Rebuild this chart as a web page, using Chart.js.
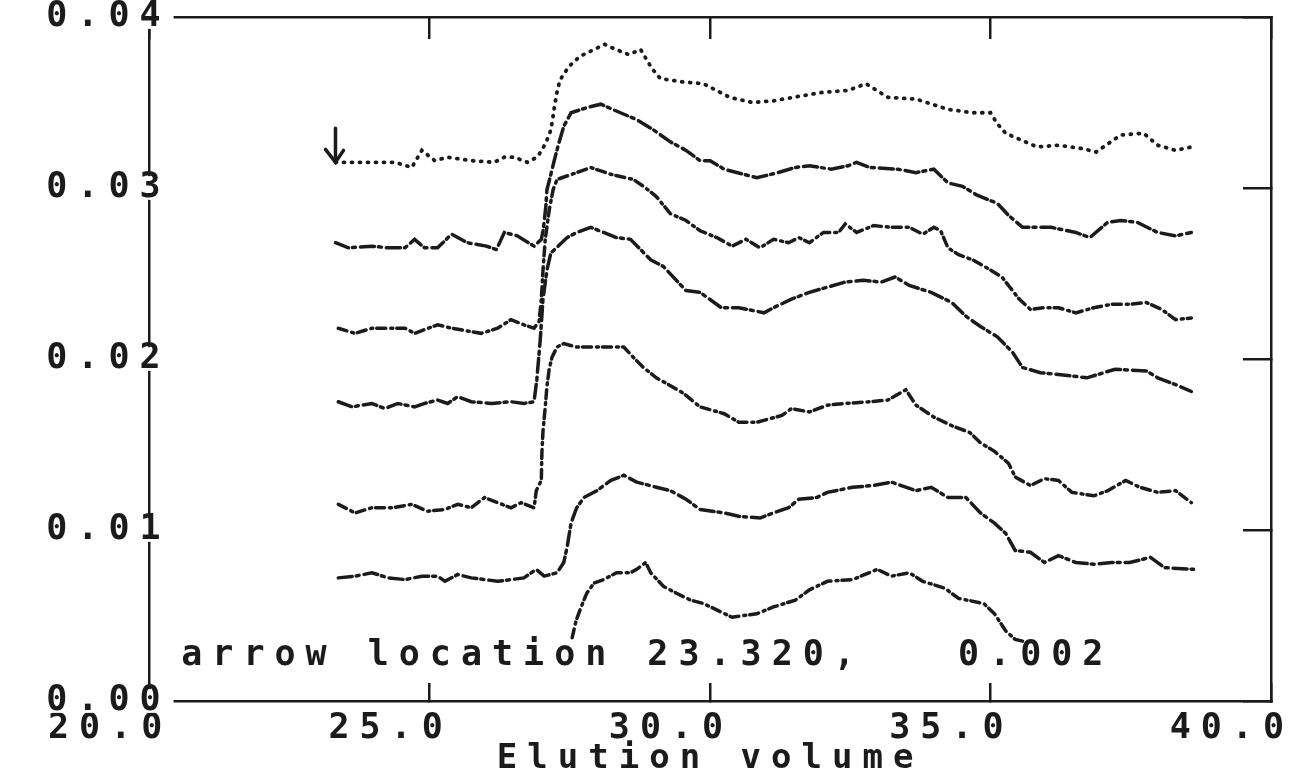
<!DOCTYPE html>
<html><head><meta charset="utf-8">
<script src="https://cdn.jsdelivr.net/npm/chart.js@4.4.1/dist/chart.umd.min.js"></script>
<style>html,body{margin:0;padding:0;background:#fff;}canvas{display:block;}</style>
</head><body>
<canvas id="c" width="1306" height="777"></canvas>
<script>
// ---- data ----
const xTickValues = [20, 25, 30, 35, 40];
const xTickLabels = ['20.0', '25.0', '30.0', '35.0', '40.0'];
const yTickValues = [0, 0.01, 0.02, 0.03, 0.04];
const yTickLabels = ['0.00', '0.01', '0.02', '0.03', '0.04'];
const axisTitle = 'Elution volume';
const annotationText = 'arrow location 23.320,   0.002';
const arrowX = 23.32;

const trace1 = [[23.32,.0315],[23.67,.0315],[23.97,.0315],[24.38,.0315],[24.68,.0312],[24.86,.0322],[25.09,.0316],[25.32,.0318],[25.74,.0316],[26.15,.0315],[26.33,.0318],[26.51,.0318],[26.74,.0315],[26.91,.0318],[27.00,.0322],[27.09,.0328],[27.16,.0334],[27.20,.0342],[27.23,.0349],[27.27,.0356],[27.32,.0363],[27.48,.0371],[27.68,.0377],[27.93,.0381],[28.12,.0384],[28.32,.0381],[28.55,.0378],[28.76,.0381],[28.96,.0370],[29.11,.0364],[29.52,.0362],[29.88,.0361],[30.35,.0353],[30.76,.0350],[31.13,.0351],[31.65,.0354],[32.02,.0356],[32.45,.0357],[32.78,.0361],[33.17,.0353],[33.67,.0352],[34.24,.0346],[34.68,.0344],[35.00,.0344],[35.11,.0338],[35.27,.0332],[35.83,.0324],[36.21,.0325],[36.65,.0323],[36.88,.0321],[37.32,.0331],[37.73,.0332],[37.98,.0325],[38.30,.0322],[38.58,.0324]];
const trace2 = [[23.32,.0268],[23.55,.0265],[23.97,.0266],[24.26,.0265],[24.56,.0265],[24.73,.0270],[24.91,.0265],[25.14,.0265],[25.39,.0273],[25.67,.0268],[26.01,.0266],[26.19,.0264],[26.33,.0274],[26.56,.0272],[26.86,.0266],[26.99,.0270],[27.02,.0275],[27.04,.0280],[27.07,.0289],[27.09,.0299],[27.16,.0308],[27.22,.0316],[27.30,.0326],[27.39,.0336],[27.52,.0344],[27.80,.0347],[28.05,.0349],[28.40,.0344],[28.69,.0340],[28.99,.0334],[29.29,.0327],[29.57,.0322],[29.82,.0316],[30.00,.0316],[30.25,.0311],[30.83,.0306],[31.21,.0309],[31.52,.0312],[31.77,.0313],[32.16,.0311],[32.46,.0313],[32.61,.0315],[32.85,.0312],[33.35,.0311],[33.67,.0309],[33.99,.0311],[34.24,.0303],[34.50,.0301],[34.75,.0296],[35.12,.0291],[35.32,.0284],[35.57,.0277],[36.08,.0277],[36.52,.0274],[36.77,.0271],[37.09,.0280],[37.32,.0281],[37.61,.0280],[37.98,.0274],[38.30,.0272],[38.58,.0274]];
const trace3 = [[23.37,.0218],[23.67,.0215],[23.97,.0218],[24.56,.0218],[24.73,.0215],[25.14,.0220],[25.39,.0218],[25.74,.0216],[25.92,.0215],[26.21,.0218],[26.45,.0223],[26.68,.0220],[26.86,.0218],[26.95,.0222],[26.99,.0235],[27.02,.0252],[27.06,.0270],[27.13,.0287],[27.20,.0299],[27.27,.0305],[27.62,.0309],[27.87,.0312],[28.23,.0308],[28.63,.0305],[28.81,.0301],[29.04,.0295],[29.29,.0285],[29.57,.0281],[29.82,.0275],[30.12,.0271],[30.39,.0266],[30.64,.0270],[30.89,.0265],[31.13,.0270],[31.40,.0268],[31.58,.0271],[31.77,.0268],[32.02,.0274],[32.29,.0274],[32.41,.0279],[32.61,.0274],[32.91,.0278],[33.23,.0277],[33.55,.0277],[33.79,.0273],[33.99,.0277],[34.11,.0275],[34.24,.0265],[34.43,.0261],[34.68,.0258],[34.95,.0253],[35.20,.0248],[35.32,.0243],[35.51,.0235],[35.71,.0229],[35.96,.0230],[36.21,.0230],[36.52,.0227],[36.84,.0230],[37.16,.0232],[37.48,.0232],[37.78,.0233],[38.05,.0229],[38.30,.0223],[38.58,.0224]];
const trace4 = [[23.37,.0175],[23.62,.0172],[23.97,.0174],[24.20,.0171],[24.43,.0174],[24.73,.0172],[24.91,.0174],[25.14,.0176],[25.32,.0174],[25.50,.0178],[25.74,.0175],[26.10,.0174],[26.45,.0175],[26.68,.0174],[26.86,.0175],[26.91,.0188],[26.97,.0211],[27.02,.0235],[27.09,.0252],[27.16,.0262],[27.45,.0271],[27.62,.0274],[27.87,.0277],[28.10,.0274],[28.33,.0271],[28.58,.0270],[28.94,.0258],[29.17,.0254],[29.34,.0248],[29.57,.0240],[29.82,.0239],[30.20,.0230],[30.51,.0230],[30.96,.0227],[31.13,.0230],[31.45,.0235],[31.77,.0239],[32.09,.0242],[32.41,.0245],[32.73,.0246],[33.05,.0245],[33.30,.0248],[33.55,.0243],[33.94,.0239],[34.31,.0233],[34.56,.0225],[34.82,.0219],[35.12,.0213],[35.39,.0204],[35.57,.0195],[35.89,.0192],[36.21,.0191],[36.72,.0189],[37.22,.0194],[37.78,.0193],[37.98,.0189],[38.30,.0185],[38.58,.0181]];
const trace5 = [[23.37,.0115],[23.67,.0110],[23.97,.0113],[24.33,.0113],[24.68,.0115],[24.96,.0111],[25.27,.0112],[25.50,.0115],[25.74,.0113],[25.98,.0119],[26.21,.0116],[26.45,.0113],[26.63,.0116],[26.86,.0113],[26.90,.0123],[26.99,.0129],[27.00,.0145],[27.02,.0158],[27.06,.0172],[27.09,.0184],[27.13,.0194],[27.18,.0201],[27.27,.0207],[27.39,.0209],[27.62,.0207],[27.93,.0207],[28.23,.0207],[28.46,.0207],[28.63,.0201],[28.81,.0195],[29.04,.0189],[29.26,.0185],[29.52,.0180],[29.82,.0172],[30.25,.0168],[30.51,.0163],[30.83,.0163],[31.28,.0167],[31.45,.0171],[31.77,.0169],[32.09,.0173],[32.41,.0174],[32.85,.0175],[33.17,.0176],[33.49,.0182],[33.67,.0173],[33.99,.0166],[34.31,.0161],[34.63,.0157],[34.82,.0151],[35.07,.0146],[35.32,.0139],[35.44,.0131],[35.71,.0126],[35.96,.0130],[36.21,.0129],[36.45,.0122],[36.84,.0120],[37.09,.0123],[37.41,.0129],[37.66,.0125],[37.98,.0122],[38.30,.0123],[38.58,.0116]];
const trace6 = [[23.37,.0072],[23.67,.0073],[23.97,.0075],[24.26,.0072],[24.56,.0071],[24.86,.0073],[25.14,.0073],[25.27,.0070],[25.50,.0074],[25.74,.0072],[25.98,.0071],[26.21,.0070],[26.45,.0071],[26.68,.0072],[26.90,.0077],[27.04,.0073],[27.27,.0075],[27.39,.0081],[27.45,.0090],[27.52,.0104],[27.62,.0113],[27.75,.0119],[27.98,.0123],[28.23,.0129],[28.46,.0132],[28.69,.0128],[29.04,.0125],[29.29,.0123],[29.57,.0118],[29.82,.0112],[30.25,.0110],[30.51,.0108],[30.89,.0107],[31.13,.0110],[31.40,.0113],[31.58,.0118],[31.90,.0119],[32.09,.0122],[32.54,.0125],[32.91,.0126],[33.23,.0128],[33.67,.0123],[33.94,.0125],[34.24,.0119],[34.56,.0119],[34.82,.0110],[35.07,.0104],[35.27,.0098],[35.44,.0088],[35.71,.0087],[35.96,.0081],[36.21,.0085],[36.52,.0081],[36.84,.0080],[37.16,.0081],[37.48,.0081],[37.85,.0084],[38.10,.0078],[38.62,.0077]];
const trace7 = [[27.54,.0037],[27.61,.0047],[27.70,.0055],[27.80,.0063],[27.93,.0069],[28.10,.0071],[28.33,.0075],[28.58,.0075],[28.69,.0077],[28.85,.0081],[28.94,.0075],[29.17,.0067],[29.40,.0063],[29.65,.0059],[29.88,.0057],[30.39,.0049],[30.83,.0051],[31.13,.0055],[31.52,.0059],[31.77,.0065],[32.09,.0070],[32.54,.0071],[32.98,.0077],[33.23,.0073],[33.55,.0075],[33.79,.0070],[34.18,.0066],[34.43,.0060],[34.88,.0057],[35.07,.0051],[35.27,.0041],[35.44,.0036],[35.57,.0035]];
const traces = [trace1, trace2, trace3, trace4, trace5, trace6, trace7];

// ---- styling ----
const INK = '#1b1b1b';
const SPACING = '10px';
const MONO = "'DejaVu Sans Mono', monospace";
const X_FONT = {family: MONO, size: 35, weight: 'bold', lineHeight: 1.2};
const Y_FONT = {family: MONO, size: 35, weight: 'bold', lineHeight: 0.62};

const spacingPlugin = {
  id: 'spacing',
  afterInit(c) { c.ctx.letterSpacing = SPACING; },
  beforeUpdate(c) { c.ctx.letterSpacing = SPACING; },
  beforeDraw(c) { c.ctx.letterSpacing = SPACING; }
};

const annotationPlugin = {
  id: 'annotation',
  afterDraw(c) {
    const ctx = c.ctx, xs = c.scales.x, ys = c.scales.y, area = c.chartArea;
    ctx.save();
    ctx.letterSpacing = SPACING;
    ctx.font = "bold 35px " + MONO;
    ctx.fillStyle = INK;
    ctx.textAlign = 'left';
    ctx.textBaseline = 'middle';
    ctx.fillText(annotationText, area.left + 32, area.bottom - 45);
    const ax = xs.getPixelForValue(arrowX);
    const ay = ys.getPixelForValue(trace1[0][1]);
    ctx.strokeStyle = INK;
    ctx.lineWidth = 3.5;
    ctx.lineCap = 'round';
    ctx.beginPath();
    ctx.moveTo(ax, ay - 34); ctx.lineTo(ax, ay);
    ctx.moveTo(ax - 10, ay - 13); ctx.lineTo(ax, ay); ctx.lineTo(ax + 8, ay - 12);
    ctx.stroke();
    ctx.restore();
  }
};

const setTicks = vals => scale => { scale.ticks = vals.map(v => ({value: v})); };
const border = {display: true, color: INK, width: 2.5};

new Chart(document.getElementById('c'), {
  type: 'line',
  data: {
    datasets: traces.map((t, i) => ({
      data: t.map(p => ({x: p[0], y: p[1]})),
      borderColor: INK,
      borderWidth: i === 0 ? 3.8 : 3.5,
      borderDash: i === 0 ? [1, 7] : (i % 2 ? [14, 4, 3, 5] : [9, 5, 2, 4]),
      borderCapStyle: 'round',
      pointRadius: 0,
      tension: 0,
      fill: false
    }))
  },
  options: {
    responsive: false,
    animation: false,
    events: [],
    layout: {padding: 0},
    plugins: {legend: {display: false}, tooltip: {enabled: false}},
    scales: {
      x: {
        type: 'linear', position: 'bottom', min: 20, max: 40,
        afterBuildTicks: setTicks(xTickValues),
        ticks: {callback: (v, i) => xTickLabels[i], font: X_FONT, color: INK, align: 'end', labelOffset: 23, padding: 25, maxRotation: 0, autoSkip: false},
        grid: {drawOnChartArea: false, drawTicks: true, tickLength: -18, color: INK, lineWidth: 2.5},
        border: border,
        title: {display: true, text: axisTitle, color: INK, font: {family: MONO, size: 34, weight: 'bold', lineHeight: 1.05}, padding: {top: 0, bottom: 0}},
        afterFit: s => { s.height = 76; }
      },
      xTop: {
        type: 'linear', position: 'top', min: 20, max: 40,
        afterBuildTicks: setTicks(xTickValues),
        ticks: {display: false},
        grid: {drawOnChartArea: false, drawTicks: true, tickLength: -22, color: INK, lineWidth: 2.5},
        border: border,
        afterFit: s => { s.height = 17; }
      },
      y: {
        type: 'linear', position: 'left', min: 0, max: 0.04,
        afterBuildTicks: setTicks(yTickValues),
        ticks: {callback: (v, i) => yTickLabels[i], font: Y_FONT, color: INK, mirror: true, padding: -103, showLabelBackdrop: true, backdropColor: '#ffffff', backdropPadding: {x: 3, y: 1}, z: 1},
        grid: {display: false, drawTicks: false},
        border: border,
        afterFit: s => { s.width = 143; }
      },
      yRight: {
        type: 'linear', position: 'right', min: 0, max: 0.04,
        afterBuildTicks: setTicks(yTickValues),
        ticks: {display: false},
        grid: {drawOnChartArea: false, drawTicks: true, tickLength: -28, color: INK, lineWidth: 2.5},
        border: border,
        afterFit: s => { s.width = 35; }
      }
    }
  },
  plugins: [spacingPlugin, annotationPlugin]
});
</script>
</body></html>
